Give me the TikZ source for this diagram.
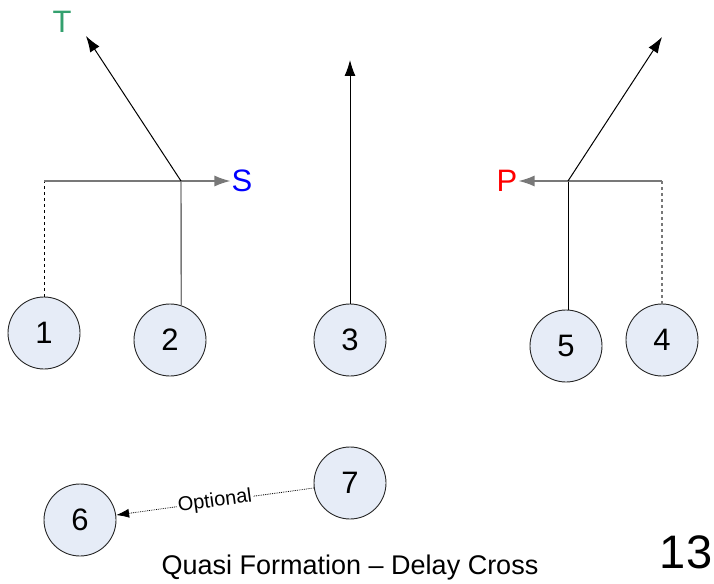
\documentclass[tikz,border=0pt]{standalone}
\usepackage{fontspec}
\setmainfont{Liberation Sans}
\usetikzlibrary{arrows.meta}
\definecolor{playerfill}{RGB}{230,236,247}
\definecolor{routegray}{RGB}{120,120,120}
\definecolor{tgreen}{RGB}{51,160,110}
\tikzset{
  player/.style={circle, draw=black!85, line width=0.9pt, fill=playerfill, minimum size=72pt, inner sep=0pt, font=\fontsize{31}{34}\selectfont},
  tip/.style={-{Latex[length=16pt,width=11pt]}},
  route/.style={line width=1pt, tip},
  cut/.style={routegray, line width=1.4pt},
  tag/.style={font=\fontsize{31}{34}\selectfont, inner sep=1pt}
}
\begin{document}
\begin{tikzpicture}[x=1pt, y=-1pt]
% Set the page
\useasboundingbox (0,0) rectangle (714,583);

% Players
\node[player] (p1) at (44,333) {1};
\node[player] (p2) at (170,340) {2};
\node[player] (p3) at (350,340) {3};
\node[player] (p5) at (566,346) {5};
\node[player] (p4) at (662,340) {4};
\node[player] (p6) at (80,520) {6};
\node[player] (p7) at (350,483) {7};

% Route labels
\node[tag, text=tgreen] (lT) at (62,22) {T};
\node[tag, text=blue] (lS) at (242,181) {S};
\node[tag, text=red] (lP) at (507,181) {P};

% Turn points
\coordinate (c1) at (44,181);
\coordinate (sj) at (181,181);
\coordinate (pj) at (568,181);
\coordinate (c4) at (662,181);
\coordinate (t3) at (350,60);
\coordinate (tT) at (86,36);
\coordinate (t4) at (662,37);

% Left side
\draw[dashed, line width=0.9pt] (p1) -- (c1);
\draw[cut] (c1) -- (sj);
\draw[cut] (p2.72) -- (sj);
\draw[cut, tip] (sj) -- (lS);
\draw[route] (sj) -- (tT);

% Middle
\draw[route] (p3) -- (t3);

% Right side
\draw[line width=1pt] (pj |- p5.north) -- (pj);
\draw[cut, tip] (pj) -- (lP);
\draw[cut] (pj) -- (c4);
\draw[cut, dashed] (c4) -- (p4);
\draw[route] (pj) -- (t4);

% Back
\draw[densely dotted, line width=0.8pt, -{Latex[length=13pt,width=9pt]}] (p7) -- (p6)
  node[midway, sloped, fill=white, inner sep=1pt, font=\fontsize{20}{22}\selectfont] (opt) {Optional};

% Titles
\node[font=\fontsize{27}{30}\selectfont] (title) at (350,568) {Quasi Formation – Delay Cross};
\node[font=\fontsize{47}{50}\selectfont] (num) at (686,552) {13};
\end{tikzpicture}
\end{document}
